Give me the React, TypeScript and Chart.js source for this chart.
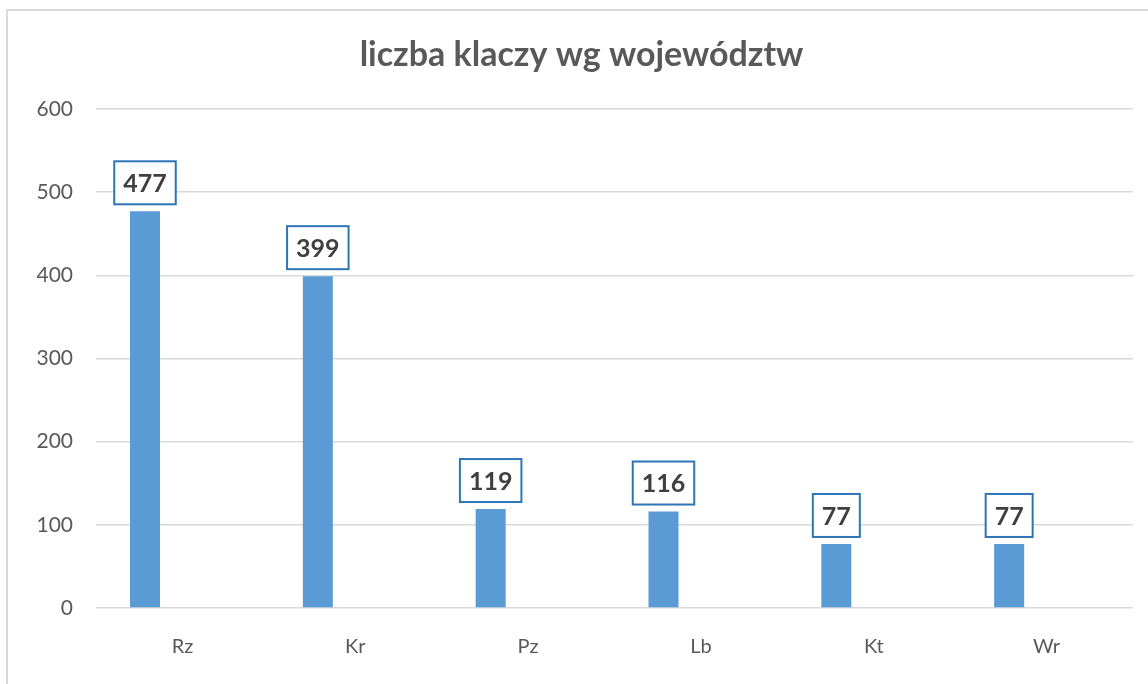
import React, { useEffect, useRef } from "react";
import { Chart, registerables } from "chart.js";

Chart.register(...registerables);

const TITLE = "liczba klaczy wg województw";
const categories = ["Rz", "Kr", "Pz", "Lb", "Kt", "Wr"];
const values = [477, 399, 119, 116, 77, 77];
const emptySeries = [null, null, null, null, null, null];
const yTicks = [0, 100, 200, 300, 400, 500, 600];

const FONT = "Lato, 'Open Sans', sans-serif";

const titlePlugin = {
  id: "customTitle",
  afterDraw(chart: any) {
    const ctx = chart.ctx;
    ctx.save();
    ctx.font = `bold 34px ${FONT}`;
    ctx.fillStyle = "#595959";
    ctx.textAlign = "center";
    ctx.textBaseline = "alphabetic";
    ctx.fillText(TITLE, 581.5, 66);
    ctx.restore();
  },
};

const labelPlugin = {
  id: "boxLabels",
  afterDatasetsDraw(chart: any) {
    const ctx = chart.ctx;
    const meta = chart.getDatasetMeta(0);
    ctx.save();
    ctx.font = `bold 25px ${FONT}`;
    meta.data.forEach((bar: any, i: number) => {
      const v = chart.data.datasets[0].data[i];
      if (v == null) return;
      const text = String(v);
      const tw = ctx.measureText(text).width;
      const w = tw + 18;
      const h = 43;
      const bottom = bar.y - 7;
      const x0 = bar.x - w / 2;
      const y0 = bottom - h;
      ctx.fillStyle = "#ffffff";
      ctx.fillRect(x0, y0, w, h);
      ctx.strokeStyle = "#2e75b6";
      ctx.lineWidth = 2;
      ctx.strokeRect(x0, y0, w, h);
      ctx.fillStyle = "#404040";
      ctx.textAlign = "center";
      ctx.textBaseline = "middle";
      ctx.fillText(text, bar.x, y0 + h / 2 + 1);
    });
    ctx.restore();
  },
};

export default function App() {
  const ref = useRef<HTMLCanvasElement | null>(null);
  useEffect(() => {
    if (!ref.current) return;
    const chart = new Chart(ref.current, {
      type: "bar",
      data: {
        labels: categories,
        datasets: [
          {
            label: "liczba klaczy",
            data: values,
            backgroundColor: "#5b9bd5",
            categoryPercentage: 0.866,
            barPercentage: 0.401,
          },
          {
            label: "",
            data: emptySeries as any,
            backgroundColor: "#ed7d31",
            categoryPercentage: 0.866,
            barPercentage: 0.401,
          },
        ],
      },
      options: {
        responsive: false,
        animation: false,
        layout: { padding: { top: 109, left: 0, right: 15, bottom: 0 } },
        plugins: {
          legend: { display: false },
          title: { display: false },
          tooltip: { enabled: false },
        },
        scales: {
          x: {
            grid: { display: false },
            border: { display: false },
            ticks: {
              color: "#595959",
              font: { family: FONT, size: 20 },
              padding: 19,
            },
            afterFit(scale: any) {
              scale.height = 76;
            },
          },
          y: {
            min: 0,
            max: 600,
            afterBuildTicks(scale: any) {
              scale.ticks = yTicks.map((v) => ({ value: v }));
            },
            grid: { color: "#d9d9d9", lineWidth: 1.5, drawTicks: false },
            border: { display: false },
            ticks: {
              color: "#595959",
              font: { family: FONT, size: 21 },
              padding: 23,
            },
            afterFit(scale: any) {
              scale.width = 96;
            },
          },
        },
      },
      plugins: [titlePlugin, labelPlugin],
    });
    return () => chart.destroy();
  }, []);

  return (
    <div
      style={{
        position: "fixed",
        left: 0,
        top: 0,
        width: 1148,
        height: 684,
        overflow: "hidden",
        background: "#ffffff",
      }}
    >
      <div
        style={{
          position: "absolute",
          left: 6,
          top: 9,
          width: 1200,
          height: 720,
          border: "2px solid #d9d9d9",
        }}
      />
      <canvas
        ref={ref}
        width={1148}
        height={684}
        style={{ position: "absolute", left: 0, top: 0, width: 1148, height: 684 }}
      />
    </div>
  );
}
